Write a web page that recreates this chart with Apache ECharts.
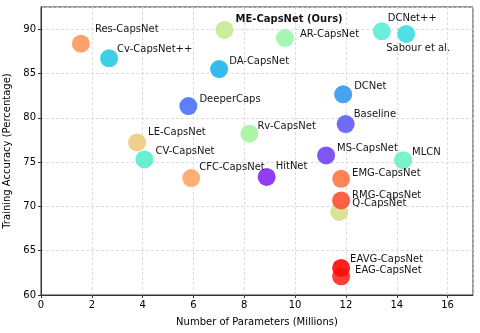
<!DOCTYPE html>
<html>
<head>
<meta charset="utf-8">
<script src="https://cdn.jsdelivr.net/npm/echarts@6/dist/echarts.min.js"></script>
<style>
    html, body { margin: 0; padding: 0; background: #fff; }
    #scatter-chart { width: 480px; height: 333px; }
</style>
</head>
<body>
<div id="scatter-chart"></div>
<script>
// model names, params (millions), accuracy (%)
var models = ['Res-CapsNet', 'Cv-CapsNet++', 'ME-CapsNet (Ours)', 'DA-CapsNet', 'DeeperCaps', 'AR-CapsNet',
    'DCNet++', 'Sabour et al.', 'DCNet', 'Baseline', 'Rv-CapsNet', 'LE-CapsNet', 'CV-CapsNet', 'CFC-CapsNet',
    'HitNet', 'MS-CapsNet', 'MLCN', 'EMG-CapsNet', 'Q-CapsNet', 'RMG-CapsNet', 'EAG-CapsNet', 'EAVG-CapsNet'];
var params = [1.57, 2.68, 7.22, 7.01, 5.80, 9.60,
    13.41, 14.37, 11.89, 11.99, 8.20, 3.78, 4.07, 5.91,
    8.88, 11.22, 14.25, 11.81, 11.74, 11.81, 11.81, 11.81];
var accuracy = [88.36, 86.71, 89.91, 85.50, 81.32, 89.00,
    89.76, 89.46, 82.64, 79.29, 78.20, 77.22, 75.30, 73.19,
    73.33, 75.75, 75.22, 73.11, 69.38, 70.67, 62.11, 63.05];

var xTicks = [0, 2, 4, 6, 8, 10, 12, 14, 16];
var yTicks = [60, 65, 70, 75, 80, 85, 90];

// styling per point
var colors = ['#ff9960', '#2ccbe4', '#c4ec94', '#22b4ee', '#4f74fb', '#9ef5ae',
    '#5eeed6', '#40dde2', '#3a9af0', '#6460fa', '#a8f4a0', '#eecb80', '#5aeecc', '#ffa86a',
    '#8a2cf2', '#7446f2', '#70f2c0', '#ff7a48', '#d6df8c', '#ff5438', '#ff2e24', '#ff0c0c'];
// label left edge / vertical middle, relative to the point centre (px)
var labelOffsets = [[14, -14], [8, -9], [11, -11], [10, -8], [11, -7], [15, -4],
    [6, -13], [-20, 14], [11, -8], [8, -10], [8, -7], [11, -10], [11, -8], [8, -11],
    [9, -10], [11, -7], [9, -8], [11, -5], [13, -8], [11, -5], [14, -6], [9, -9]];

var font = 'DejaVu Sans';
var symbolSize = 18;

var points = [];
for (var i = 0; i < models.length; i++) {
    points.push({
        name: models[i],
        value: [params[i], accuracy[i]],
        itemStyle: { color: colors[i], opacity: 0.92 },
        label: {
            show: true,
            position: [symbolSize / 2 + labelOffsets[i][0], symbolSize / 2 + labelOffsets[i][1]],
            align: 'left',
            verticalAlign: 'middle',
            formatter: '{b}',
            color: '#000',
            fontFamily: font,
            fontSize: 10,
            fontWeight: models[i].indexOf('Ours') >= 0 ? 'bold' : 'normal'
        }
    });
}

var option = {
    animation: false,
    backgroundColor: '#fff',
    grid: {
        left: 41,
        right: 7,
        top: 7,
        bottom: 38,
        outerBoundsMode: 'none',
        containLabel: false,
        show: true,
        borderColor: '#333',
        borderWidth: 1
    },
    xAxis: {
        type: 'value',
        min: 0,
        max: 17,
        interval: 2,
        name: 'Number of Parameters (Millions)',
        nameLocation: 'middle',
        nameGap: 22,
        nameTextStyle: { fontFamily: font, fontSize: 10, color: '#000' },
        axisLine: { show: true, onZero: false, lineStyle: { color: '#333' } },
        axisTick: { show: true, length: 3, lineStyle: { color: '#333' } },
        axisLabel: {
            fontFamily: font, fontSize: 10, color: '#000', margin: 5, showMaxLabel: false,
            formatter: function (v) { return xTicks.indexOf(v) >= 0 ? v : ''; }
        },
        splitLine: { show: true, lineStyle: { color: '#d4d4d4', type: [3, 2], width: 0.8 } }
    },
    yAxis: {
        type: 'value',
        min: 60,
        max: 92.5,
        interval: 5,
        name: 'Training Accuracy (Percentage)',
        nameLocation: 'middle',
        nameGap: 22,
        nameTextStyle: { fontFamily: font, fontSize: 10, color: '#000' },
        axisLine: { show: true, onZero: false, lineStyle: { color: '#333' } },
        axisTick: { show: true, length: 3, lineStyle: { color: '#333' } },
        axisLabel: {
            fontFamily: font, fontSize: 10, color: '#000', margin: 5, showMaxLabel: false,
            formatter: function (v) { return yTicks.indexOf(v) >= 0 ? v : ''; }
        },
        splitLine: { show: true, lineStyle: { color: '#d4d4d4', type: [3, 2], width: 0.8 } }
    },
    series: [{
        type: 'scatter',
        symbolSize: symbolSize,
        data: points,
        labelLayout: { hideOverlap: false }
    }]
};

var scatterChart = echarts.init(document.getElementById('scatter-chart'), null, { renderer: 'canvas' });
scatterChart.setOption(option);
</script>
</body>
</html>
